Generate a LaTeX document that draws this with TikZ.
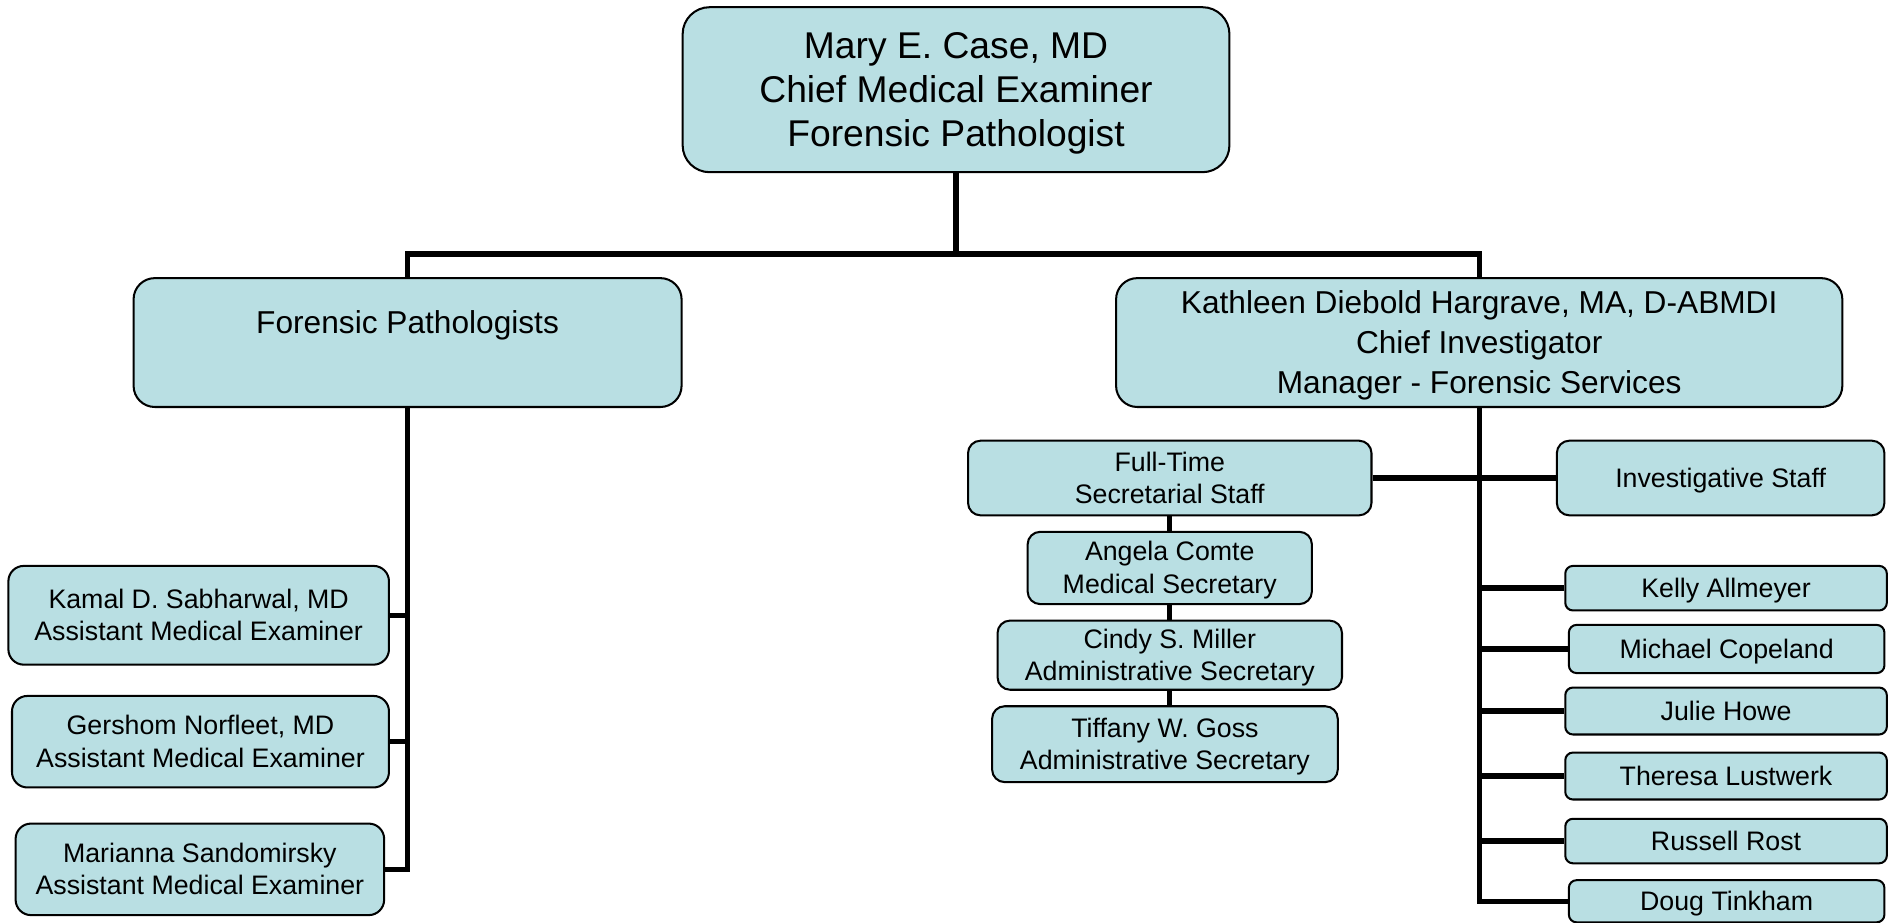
\documentclass[tikz,border=0pt]{standalone}
\usepackage{fontspec}
\setmainfont{Liberation Sans}
\usetikzlibrary{positioning,calc}
\definecolor{boxteal}{RGB}{185,223,227}
\newcommand{\chieffont}{\fontsize{11}{13.1}\selectfont}
\newcommand{\headfont}{\fontsize{9.35}{11.7}\selectfont}
\newcommand{\stafffont}{\fontsize{7.9}{9.6}\selectfont}
\newcommand{\linestrut}{\rule[-0.212em]{0pt}{1.117em}}
\tikzset{
  unit/.style={draw,line width=0.6pt,fill=boxteal,align=center,inner sep=1pt,rounded corners=#1,
    execute at begin node=\linestrut,execute at end node=\linestrut},
  unit/.default=0.12cm,
  boxsize/.style 2 args={minimum width=#1,minimum height=#2},
  link/.style={line width=1.6pt}
}

\begin{document}
\begin{tikzpicture}[x=0.0125cm,y=-0.0125cm,node distance=0.15cm]
    \useasboundingbox (0,0) rectangle (1568,766);
    % chief and the two branches
    \node[unit=0.28cm,boxsize={5.675cm}{1.7125cm},font=\chieffont](mec) at (794,74.5){\linestrut Mary E. Case, MD\\Chief Medical Examiner\\Forensic Pathologist};
    \node[unit=0.22cm,boxsize={5.6875cm}{1.3375cm},font=\headfont](fp) at (338.5,284.5){\linestrut Forensic Pathologists\\\mbox{}};
    \node[unit=0.22cm,boxsize={7.5375cm}{1.3375cm},font=\headfont](kdh) at (1228.5,284.5){\linestrut Kathleen Diebold Hargrave, MA, D-ABMDI\\Chief Investigator\\Manager - Forensic Services};
    % pathologists
    \node[unit=0.16cm,boxsize={3.95cm}{1.025cm},font=\stafffont](kamal) at (165,511){\linestrut Kamal D. Sabharwal, MD\\Assistant Medical Examiner};
    \node[unit=0.16cm,boxsize={3.9125cm}{0.95cm},font=\stafffont](gershom) at (166.5,616){\linestrut Gershom Norfleet, MD\\Assistant Medical Examiner};
    \node[unit=0.16cm,boxsize={3.825cm}{0.95cm},font=\stafffont](marianna) at (166,722){\linestrut Marianna Sandomirsky\\Assistant Medical Examiner};
    % secretarial staff
    \node[unit=0.13cm,boxsize={4.1875cm}{0.775cm},font=\stafffont](fts) at (971.5,397){\linestrut Full-Time\\Secretarial Staff};
    \node[unit=0.13cm,boxsize={2.95cm}{0.75cm},font=\stafffont](angela)[below=of fts]{\linestrut Angela Comte\\Medical Secretary};
    \node[unit=0.13cm,boxsize={3.575cm}{0.7125cm},font=\stafffont](cindy)[below=of angela]{\linestrut Cindy S. Miller\\Administrative Secretary};
    \node[unit=0.13cm,boxsize={3.5875cm}{0.7875cm},font=\stafffont](tiffany)[below=of cindy,xshift=-0.05cm]{\linestrut Tiffany W. Goss\\Administrative Secretary};
    % investigative staff
    \node[unit=0.13cm,boxsize={3.4cm}{0.775cm},font=\stafffont](inv) at (1429,397){Investigative Staff};
    \node[unit=0.08cm,boxsize={3.3375cm}{0.4625cm},font=\stafffont](kelly) at (1433.5,488.5){Kelly Allmeyer};
    \node[unit=0.08cm,boxsize={3.275cm}{0.5cm},font=\stafffont](michael) at (1434,539){Michael Copeland};
    \node[unit=0.08cm,boxsize={3.3375cm}{0.4875cm},font=\stafffont](julie) at (1433.5,590.5){Julie Howe};
    \node[unit=0.08cm,boxsize={3.3375cm}{0.4875cm},font=\stafffont](theresa) at (1433.5,644.5){Theresa Lustwerk};
    \node[unit=0.08cm,boxsize={3.3375cm}{0.4625cm},font=\stafffont](russell) at (1433.5,698.5){Russell Rost};
    \node[unit=0.08cm,boxsize={3.275cm}{0.4375cm},font=\stafffont](doug) at (1434,748.5){Doug Tinkham};
    % connectors
    \coordinate(split) at (794,211);
    \draw[link](mec.south)--(split);
    \draw[link](fp.north)|-(split)-|(kdh.north);
    \draw[link](fp.south)|-(marianna.east);
    \foreach \n in {kamal,gershom}
        \draw[link](\n.east)--(\n.east-|fp.south);
    \draw[link](kdh.south)|-(doug.west);
    \foreach \n in {kelly,michael,julie,theresa,russell}
        \draw[link](\n.west)--(\n.west-|kdh.south);
    \draw[link](fts.east)--(inv.west);
    \draw[link](fts.south)--(angela.north);
    \draw[link](angela.south)--(cindy.north);
    \draw[link](cindy.south)--(cindy.south|-tiffany.north);
\end{tikzpicture}
\end{document}
